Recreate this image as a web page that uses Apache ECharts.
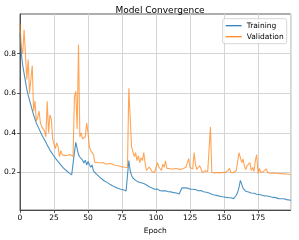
<!DOCTYPE html>
<html><head><meta charset="utf-8">
<script src="https://cdn.jsdelivr.net/npm/echarts@6/dist/echarts.min.js"></script>
<style>html,body{margin:0;padding:0;background:#fff}#c{width:299px;height:240px}</style>
</head><body><div id="c"></div>
<script>
const title = "Model Convergence";
const xLabel = "Epoch";
const seriesNames = ["Training", "Validation"];
const xTicks = [0, 25, 50, 75, 100, 125, 150, 175];
const yTicks = [0.2, 0.4, 0.6, 0.8];
const training = [
0.90,0.80,0.74,0.70,0.66,0.62,0.59,0.565,0.54,0.515,
0.49,0.47,0.45,0.44,0.42,0.405,0.39,0.378,0.365,0.352,
0.338,0.326,0.313,0.305,0.292,0.283,0.272,0.262,0.255,0.245,
0.238,0.230,0.222,0.218,0.210,0.205,0.198,0.193,0.188,0.184,
0.30,0.352,0.32,0.29,0.278,0.27,0.262,0.248,0.262,0.238,
0.255,0.24,0.226,0.238,0.208,0.20,0.193,0.186,0.18,0.173,
0.168,0.162,0.157,0.153,0.15,0.145,0.141,0.137,0.133,0.129,
0.126,0.122,0.12,0.117,0.115,0.112,0.113,0.11,0.107,0.109,
0.26,0.21,0.185,0.172,0.165,0.16,0.156,0.152,0.153,0.148,
0.146,0.144,0.14,0.137,0.134,0.128,0.124,0.122,0.119,0.115,
0.113,0.116,0.11,0.108,0.11,0.107,0.105,0.108,0.104,0.103,
0.105,0.102,0.100,0.098,0.097,0.096,0.094,0.091,0.09,0.122,
0.125,0.122,0.12,0.121,0.118,0.116,0.118,0.115,0.113,0.114,
0.11,0.108,0.106,0.109,0.104,0.103,0.101,0.10,0.098,0.096,
0.094,0.09,0.088,0.086,0.087,0.083,0.082,0.08,0.079,0.077,
0.078,0.075,0.076,0.073,0.071,0.072,0.069,0.068,0.073,0.085,
0.10,0.125,0.16,0.14,0.12,0.11,0.105,0.10,0.101,0.097,
0.096,0.094,0.095,0.091,0.09,0.088,0.089,0.086,0.085,0.083,
0.082,0.08,0.081,0.078,0.077,0.075,0.074,0.072,0.073,0.07,
0.068,0.069,0.067,0.066,0.067,0.064,0.063,0.062,0.061,0.059
];
const validation = [
0.95,0.83,0.80,0.92,0.91,0.67,0.77,0.60,0.59,0.74,
0.51,0.56,0.46,0.48,0.51,0.45,0.43,0.44,0.41,0.38,
0.56,0.40,0.49,0.47,0.37,0.38,0.32,0.35,0.33,0.28,
0.31,0.29,0.29,0.285,0.29,0.287,0.284,0.29,0.285,0.28,
0.58,0.61,0.42,0.845,0.38,0.40,0.37,0.365,0.38,0.45,
0.40,0.33,0.31,0.30,0.29,0.25,0.245,0.25,0.243,0.248,
0.245,0.25,0.244,0.242,0.247,0.244,0.24,0.245,0.24,0.238,
0.236,0.235,0.232,0.233,0.23,0.228,0.23,0.226,0.227,0.225,
0.625,0.615,0.33,0.325,0.28,0.30,0.26,0.285,0.25,0.275,
0.26,0.30,0.245,0.21,0.215,0.228,0.235,0.205,0.20,0.20,
0.21,0.25,0.228,0.235,0.21,0.242,0.226,0.258,0.22,0.212,
0.22,0.223,0.216,0.218,0.22,0.214,0.218,0.22,0.215,0.216,
0.22,0.223,0.226,0.25,0.27,0.225,0.215,0.218,0.30,0.24,
0.215,0.212,0.234,0.22,0.2,0.204,0.208,0.2,0.205,0.2,
0.43,0.2,0.205,0.198,0.203,0.2,0.202,0.198,0.2,0.201,
0.198,0.2,0.203,0.21,0.222,0.2,0.198,0.2,0.197,0.21,
0.22,0.30,0.275,0.25,0.268,0.23,0.215,0.235,0.225,0.25,
0.21,0.225,0.205,0.26,0.29,0.195,0.22,0.2,0.198,0.205,
0.2,0.218,0.2,0.197,0.196,0.198,0.197,0.195,0.196,0.194,
0.195,0.193,0.194,0.192,0.193,0.191,0.192,0.19,0.191,0.19
];
const pairs = arr => arr.map((v, i) => [i, v]);
const font = "DejaVu Sans";
const chart = echarts.init(document.getElementById('c'), null, {renderer: 'canvas'});
chart.setOption({
  animation: false,
  backgroundColor: '#fff',
  title: {text: title, left: 155, top: 1, textAlign: 'center',
    textStyle: {fontFamily: font, fontSize: 9, fontWeight: 'normal', color: '#000'}},
  grid: {left: 20, right: 8.3, top: 14, bottom: 23.3, show: true, borderColor: '#333', borderWidth: 0.8, backgroundColor: 'transparent'},
  legend: {
    orient: 'vertical', right: 12.3, top: 18.7,
    icon: 'rect', itemWidth: 16, itemHeight: 1.2, itemGap: 3,
    padding: [3, 3, 3, 3],
    backgroundColor: 'rgba(255,255,255,0.8)', borderColor: '#cccccc', borderWidth: 0.8, borderRadius: 2,
    textStyle: {fontFamily: font, fontSize: 7.5, color: '#000', lineHeight: 8},
    data: seriesNames
  },
  xAxis: {
    type: 'value', min: 0, max: 199, interval: 25,
    name: xLabel, nameLocation: 'middle', nameGap: 14,
    nameTextStyle: {fontFamily: font, fontSize: 7.5, color: '#000'},
    axisLine: {show: true, onZero: false, lineStyle: {color: '#333', width: 0.8}},
    axisTick: {show: true, inside: false, length: 3, lineStyle: {color: '#333', width: 0.8}},
    axisLabel: {fontFamily: font, fontSize: 7.5, color: '#000', margin: 4, showMaxLabel: false},
    splitLine: {show: true, lineStyle: {color: '#d5d5d5', width: 1}}
  },
  yAxis: {
    type: 'value', min: 0.01, max: 1.0,
    axisLine: {show: true, lineStyle: {color: '#333', width: 0.8}},
    axisTick: {show: true, inside: false, length: 3, customValues: yTicks, lineStyle: {color: '#333', width: 0.8}},
    axisLabel: {fontFamily: font, fontSize: 7.5, color: '#000', margin: 4, customValues: yTicks, formatter: v => v.toFixed(1)},
    splitLine: {show: true, lineStyle: {color: '#d5d5d5', width: 1}}
  },
  series: [
    {name: seriesNames[0], type: 'line', data: pairs(training), showSymbol: false, symbol: 'none',
      lineStyle: {color: '#1f77b4', width: 1.1, opacity: 0.8}, itemStyle: {color: '#1f77b4'}, z: 3},
    {name: seriesNames[1], type: 'line', data: pairs(validation), showSymbol: false, symbol: 'none',
      lineStyle: {color: '#ff7f0e', width: 1.1, opacity: 0.7}, itemStyle: {color: '#ff7f0e'}, z: 4}
  ]
});
</script></body></html>
